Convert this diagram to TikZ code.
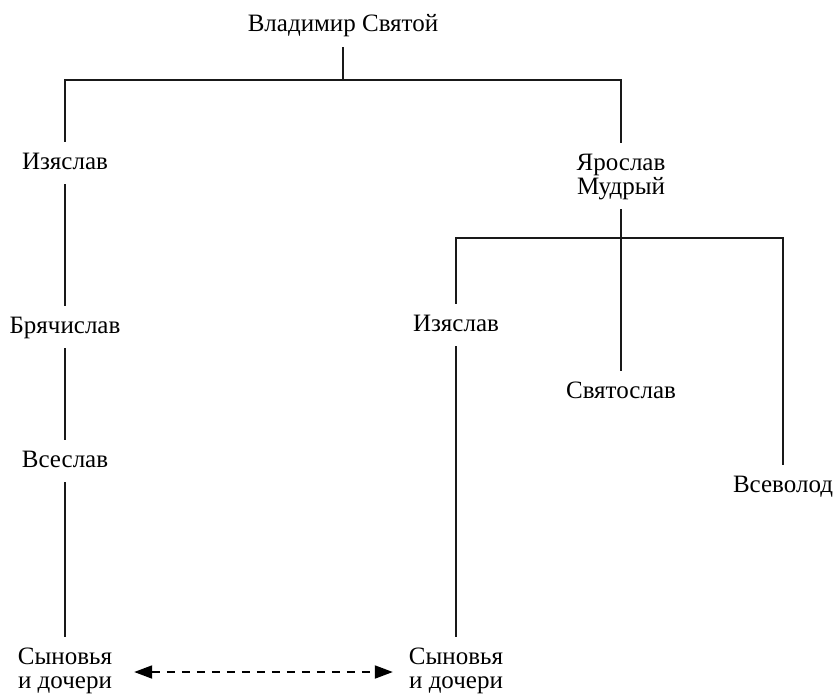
\documentclass[tikz,border=0pt]{standalone}
\usepackage{fontspec}
\setmainfont{Liberation Serif}
\usetikzlibrary{arrows.meta}
\begin{document}
\begin{tikzpicture}[x=1pt,y=-1pt,
  person/.style={font=\fontsize{25}{24}\selectfont, align=center, inner xsep=2pt, inner ysep=11pt,
    text height=16pt, text depth=4pt, anchor=base},
  twoline/.style={text height=40pt},
  link/.style={line width=1.4pt, draw=black!90},
  kin/.style={line width=1.3pt, dash pattern=on 8pt off 7pt, {Triangle[length=15pt,width=11pt,scale=1.2]}-{Triangle[length=15pt,width=11pt,scale=1.2]}}]
\useasboundingbox (0,0) rectangle (834,693);
\node[person] (vlad) at (343,32) {Владимир Святой};
\node[person] (iz1) at (65,169) {Изяслав};
\node[person,twoline] (jar) at (621,194) {Ярослав\\Мудрый};
\node[person] (bra) at (65,333) {Брячислав};
\node[person] (vse) at (65,467) {Всеслав};
\node[person,twoline] (son1) at (65,688) {Сыновья\\и дочери};
\node[person] (iz2) at (456,331) {Изяслав};
\node[person] (svy) at (621,398) {Святослав};
\node[person] (vsv) at (783,492) {Всеволод};
\node[person,twoline] (son2) at (456,688) {Сыновья\\и дочери};
\coordinate (bar1) at (0,80);
\coordinate (bar2) at (0,238);
\coordinate (ay) at (0,672);
% generation bars
\draw[link] (vlad.south) -- (vlad.south |- bar1);
\draw[link] (iz1.north) |- (bar1 -| jar.north) -- (jar.north);
\draw[link] (jar.south) -- (svy.north);
\draw[link] (iz2.north) |- (bar2 -| vsv.north) -- (vsv.north);
% descent lines
\draw[link] (iz1.south) -- (bra.north);
\draw[link] (bra.south) -- (vse.north);
\draw[link] (vse.south) -- (son1.north);
\draw[link] (iz2.south) -- (son2.north);
% kinship arrow
\draw[kin, shorten <=20pt, shorten >=14pt] (son1.east |- ay) -- (son2.west |- ay);
\end{tikzpicture}
\end{document}
